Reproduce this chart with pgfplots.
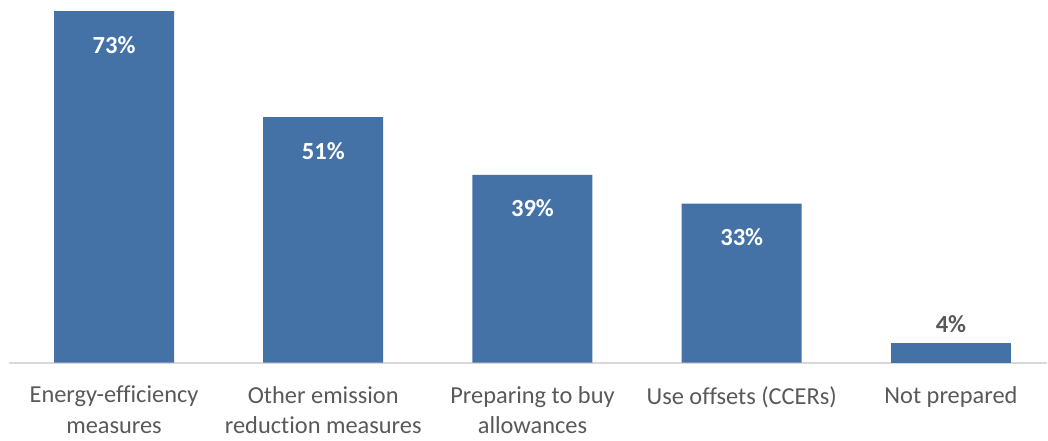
\documentclass[border=0pt]{standalone}
\usepackage{pgfplots}
\pgfplotsset{compat=1.18}
\usepackage{fontspec}
\setmainfont{Carlito}[Ligatures=NoCommon]
\definecolor{barblue}{RGB}{69,114,166}
\definecolor{txtgray}{RGB}{89,89,89}
\definecolor{axgray}{RGB}{217,217,217}
\begin{document}
\begin{tikzpicture}
\begin{axis}[
  scale only axis,
  width=519.3pt, height=180.8pt,
  xmin=-0.5, xmax=4.46,
  ymin=0, ymax=75,
  ybar, bar width=0.5735, bar shift=0pt,
  axis x line*=bottom,
  hide y axis,
  axis line style={axgray, line width=0.8pt},
  xtick={0,1,2,3,4},
  major tick length=0pt,
  /pgf/number format/assume math mode=true,
  xticklabels={{Energy-efficiency\\measures},{Other emission\\reduction measures},{Preparing to buy\\allowances},{Use offsets (CCERs)},{Not prepared}},
  xticklabel style={align=center, font=\fontsize{12.2}{15.4}\selectfont, text=txtgray, yshift=-8.2pt},
  clip=false,
]
\addplot[fill=barblue, draw=none,
  nodes near coords={\pgfmathprintnumber{\pgfplotspointmeta}\%},
  every node near coord/.append style={anchor=north, yshift=-9pt, font=\fontsize{12.3}{15}\selectfont\bfseries, text=white},
] coordinates {(0,73) (1,51) (2,39) (3,33)};
\addplot[fill=barblue, draw=none,
  nodes near coords={\pgfmathprintnumber{\pgfplotspointmeta}\%},
  every node near coord/.append style={anchor=south, yshift=2pt, font=\fontsize{12.3}{15}\selectfont\bfseries, text=txtgray},
] coordinates {(4,4)};
\end{axis}
\path (current axis.south west) ++(-4.7pt,0);
\path (current axis.north west) ++(0,0.7pt);
\end{tikzpicture}
\end{document}
